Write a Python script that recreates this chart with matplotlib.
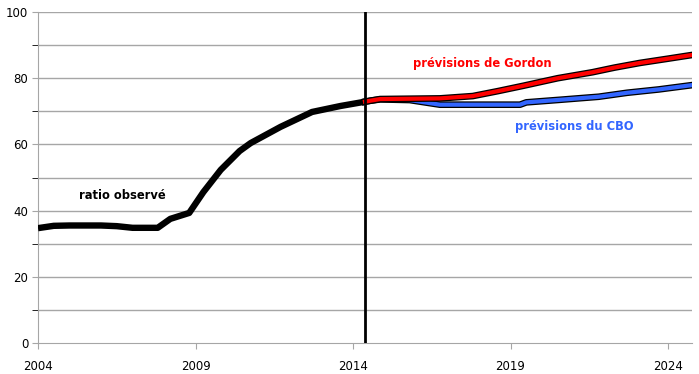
import matplotlib.pyplot as plt
import matplotlib.patheffects as pe

# ratio observé
obs_years = [2004.0, 2004.5, 2005.0, 2006.0, 2006.5, 2007.0, 2007.8, 2008.2, 2008.8,
             2009.25, 2009.8, 2010.4, 2010.75, 2011.7, 2012.7, 2013.6, 2014.38]
obs_vals = [34.7, 35.4, 35.5, 35.5, 35.3, 34.8, 34.8, 37.5, 39.3,
            45.6, 52.3, 58.0, 60.4, 65.3, 69.8, 71.6, 72.9]

# prévisions de Gordon
gordon_years = [2014.38, 2014.55, 2014.86, 2015.8, 2016.76, 2017.8, 2018.6, 2019.4,
                2020.5, 2021.6, 2022.3, 2023.1, 2024.0, 2024.75]
gordon_vals = [72.9, 73.2, 73.7, 73.8, 73.9, 74.6, 76.1, 77.7,
               80.0, 81.8, 83.2, 84.6, 85.9, 87.0]

# prévisions du CBO
cbo_years = [2014.38, 2014.55, 2014.86, 2015.8, 2016.76, 2019.3, 2019.5, 2020.6,
             2021.8, 2022.7, 2023.7, 2024.75]
cbo_vals = [72.9, 73.2, 73.6, 73.4, 72.0, 72.0, 72.7, 73.5,
            74.4, 75.6, 76.6, 77.9]

split_year = 2014.38

fig = plt.figure(figsize=(6.99, 3.74), dpi=100)
ax = fig.add_axes([38 / 699, 31 / 374, 654 / 699, 331 / 374])

for y in range(10, 101, 10):
    ax.axhline(y, color="#a6a6a6", lw=1, zorder=1)

ax.plot(obs_years, obs_vals, color="black", lw=4.6, solid_capstyle="butt", zorder=3)

edge = [pe.Stroke(linewidth=4.8, foreground="black"), pe.Normal()]
ax.plot(cbo_years, cbo_vals, color="#3366ff", lw=3, zorder=4, path_effects=edge)
ax.plot(gordon_years, gordon_vals, color="#ff0000", lw=3, zorder=5, path_effects=edge)

ax.axvline(split_year, color="black", lw=2, zorder=6)

ax.text(2005.3, 44.5, "ratio observé", fontsize=8.3, fontweight="bold", color="black",
        va="center")
ax.text(2015.9, 84.5, "prévisions de Gordon", fontsize=8.3, fontweight="bold",
        color="#ff0000", va="center")
ax.text(2019.15, 65.5, "prévisions du CBO", fontsize=8.3, fontweight="bold",
        color="#3366ff", va="center")

ax.set_xlim(2004, 2024.76)
ax.set_ylim(0, 100)
ax.set_xticks([2004, 2009, 2014, 2019, 2024])
ax.set_yticks(range(0, 101, 20))
ax.set_yticks(range(0, 101, 10), minor=True)
ax.tick_params(axis="both", labelsize=8.5, colors="#a6a6a6", labelcolor="black")
ax.tick_params(axis="y", which="both", length=4, pad=3)
ax.tick_params(axis="x", length=4, pad=8)

for side in ["top", "right"]:
    ax.spines[side].set_visible(False)
for side in ["left", "bottom"]:
    ax.spines[side].set_color("#a6a6a6")

fig.savefig("out.png", dpi=100)
